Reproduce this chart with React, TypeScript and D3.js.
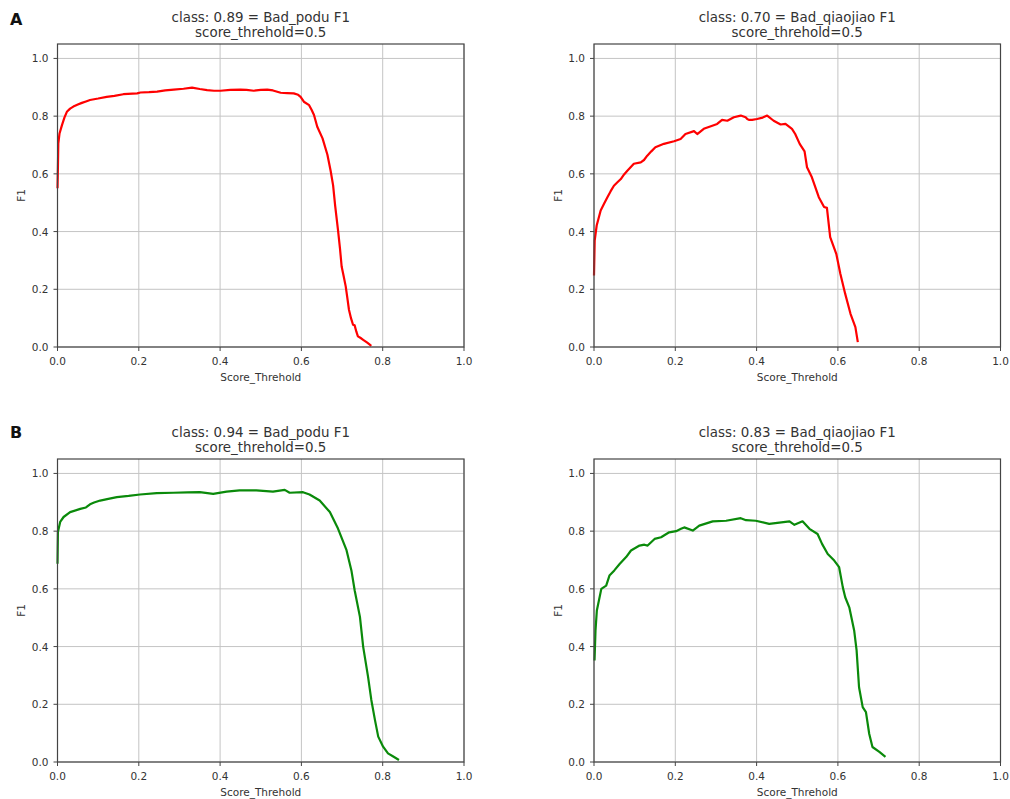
import * as d3 from "d3";

// values (x = score threshold, y = F1)
const aPodu: [number, number][] = [
  [0.0, 0.55], [0.001, 0.62], [0.002, 0.706], [0.005, 0.74], [0.011, 0.769], [0.017, 0.795],
  [0.023, 0.815], [0.031, 0.826], [0.039, 0.833], [0.05, 0.84], [0.06, 0.846], [0.07, 0.851],
  [0.08, 0.856], [0.1, 0.861], [0.121, 0.867], [0.14, 0.87], [0.162, 0.876], [0.196, 0.879],
  [0.204, 0.882], [0.225, 0.883], [0.245, 0.885], [0.265, 0.889], [0.286, 0.892], [0.31, 0.895],
  [0.331, 0.899], [0.35, 0.894], [0.368, 0.89], [0.385, 0.888], [0.401, 0.888], [0.425, 0.891],
  [0.45, 0.892], [0.465, 0.891], [0.483, 0.888], [0.5, 0.891], [0.516, 0.892], [0.53, 0.889],
  [0.549, 0.881], [0.565, 0.88], [0.581, 0.879], [0.592, 0.874], [0.598, 0.867], [0.606, 0.85],
  [0.619, 0.838], [0.625, 0.822], [0.631, 0.804], [0.639, 0.763], [0.652, 0.723], [0.664, 0.666],
  [0.672, 0.61], [0.678, 0.56], [0.683, 0.49], [0.69, 0.406], [0.695, 0.34], [0.699, 0.279],
  [0.704, 0.245], [0.709, 0.21], [0.713, 0.17], [0.717, 0.129], [0.722, 0.1], [0.727, 0.077],
  [0.731, 0.075], [0.735, 0.054], [0.739, 0.037], [0.745, 0.032], [0.752, 0.025], [0.762, 0.015],
  [0.772, 0.004],
];

const aQiaojiao: [number, number][] = [
  [0.0, 0.248], [0.0017, 0.369], [0.0066, 0.421], [0.0164, 0.473], [0.025, 0.497], [0.033, 0.519],
  [0.041, 0.54], [0.049, 0.559], [0.057, 0.57], [0.066, 0.582], [0.074, 0.598], [0.082, 0.611],
  [0.098, 0.635], [0.115, 0.64], [0.123, 0.648], [0.131, 0.663], [0.141, 0.678], [0.151, 0.692],
  [0.172, 0.704], [0.197, 0.713], [0.213, 0.721], [0.225, 0.738], [0.246, 0.748], [0.254, 0.738],
  [0.27, 0.756], [0.291, 0.767], [0.303, 0.773], [0.315, 0.787], [0.328, 0.784], [0.344, 0.796],
  [0.361, 0.802], [0.373, 0.796], [0.377, 0.79], [0.381, 0.787], [0.389, 0.787], [0.401, 0.79],
  [0.415, 0.795], [0.426, 0.802], [0.442, 0.784], [0.459, 0.771], [0.471, 0.773], [0.487, 0.756],
  [0.495, 0.738], [0.506, 0.704], [0.518, 0.678], [0.524, 0.623], [0.536, 0.588], [0.553, 0.519],
  [0.566, 0.485], [0.573, 0.482], [0.581, 0.381], [0.596, 0.323], [0.606, 0.254], [0.618, 0.184],
  [0.631, 0.115], [0.643, 0.069], [0.649, 0.017],
];

const bPodu: [number, number][] = [
  [0.0, 0.687], [0.001, 0.797], [0.0066, 0.832], [0.015, 0.849], [0.031, 0.866], [0.056, 0.877],
  [0.07, 0.882], [0.08, 0.893], [0.09, 0.899], [0.105, 0.906], [0.125, 0.912], [0.146, 0.918],
  [0.175, 0.922], [0.203, 0.927], [0.244, 0.932], [0.285, 0.933], [0.32, 0.934], [0.35, 0.935],
  [0.383, 0.929], [0.416, 0.937], [0.448, 0.941], [0.489, 0.941], [0.53, 0.937], [0.559, 0.943],
  [0.571, 0.933], [0.604, 0.935], [0.62, 0.927], [0.645, 0.906], [0.67, 0.866], [0.69, 0.809],
  [0.711, 0.734], [0.723, 0.664], [0.731, 0.595], [0.744, 0.503], [0.752, 0.399], [0.764, 0.295],
  [0.772, 0.215], [0.781, 0.145], [0.789, 0.088], [0.801, 0.053], [0.813, 0.03], [0.826, 0.019],
  [0.84, 0.007],
];

const bQiaojiao: [number, number][] = [
  [0.0013, 0.352], [0.0037, 0.456], [0.007, 0.525], [0.018, 0.6], [0.03, 0.611], [0.038, 0.646],
  [0.05, 0.664], [0.063, 0.686], [0.079, 0.71], [0.091, 0.733], [0.112, 0.75], [0.124, 0.753],
  [0.132, 0.75], [0.149, 0.773], [0.165, 0.779], [0.185, 0.796], [0.202, 0.8], [0.214, 0.808],
  [0.222, 0.813], [0.243, 0.802], [0.259, 0.819], [0.292, 0.834], [0.325, 0.836], [0.361, 0.845],
  [0.374, 0.838], [0.398, 0.836], [0.431, 0.825], [0.481, 0.834], [0.493, 0.822], [0.513, 0.834],
  [0.53, 0.808], [0.55, 0.79], [0.561, 0.756], [0.575, 0.721], [0.591, 0.698], [0.603, 0.675],
  [0.612, 0.606], [0.618, 0.571], [0.628, 0.536], [0.64, 0.456], [0.646, 0.387], [0.652, 0.259],
  [0.661, 0.19], [0.669, 0.173], [0.677, 0.098], [0.685, 0.052], [0.702, 0.035], [0.717, 0.018],
];

const titles = [
  "class: 0.89 = Bad_podu F1",
  "class: 0.70 = Bad_qiaojiao F1",
  "class: 0.94 = Bad_podu F1",
  "class: 0.83 = Bad_qiaojiao F1",
];
const subtitle = "score_threhold=0.5";
const xLabel = "Score_Threhold";
const yLabel = "F1";
const tickValues = [0, 0.2, 0.4, 0.6, 0.8, 1.0];
const panelLetters = ["A", "B"];

const W = 1010;
const H = 799;
const FONT = "DejaVu Sans, sans-serif";
const colX = [57.5, 594];
const rowY = [44, 459];
const pw = 406.5;
const ph = 303;

type PanelProps = { x0: number; y0: number; data: [number, number][]; color: string; title: string };

function Panel({ x0, y0, data, color, title }: PanelProps) {
  const x = d3.scaleLinear().domain([0, 1]).range([x0, x0 + pw]);
  const y = d3.scaleLinear().domain([0, 1.05]).range([y0 + ph, y0]);
  const line = d3.line<[number, number]>().x((d) => x(d[0])).y((d) => y(d[1]));
  const fmt = d3.format(".1f");
  const cx = x0 + pw / 2;
  return (
    <g>
      <text x={cx} y={y0 - 22} textAnchor="middle" fontSize={13.4} fill="#333">{title}</text>
      <text x={cx} y={y0 - 7} textAnchor="middle" fontSize={13.4} fill="#333">{subtitle}</text>
      {/* grid */}
      {tickValues.map((t) => (
        <line key={"gx" + t} x1={x(t)} x2={x(t)} y1={y0} y2={y0 + ph} stroke="#c4c4c4" strokeWidth={1} />
      ))}
      {tickValues.map((t) => (
        <line key={"gy" + t} x1={x0} x2={x0 + pw} y1={y(t)} y2={y(t)} stroke="#c4c4c4" strokeWidth={1} />
      ))}
      <path d={line(data) || ""} fill="none" stroke={color} strokeWidth={2.2} strokeLinejoin="round" />
      <rect x={x0} y={y0} width={pw} height={ph} fill="none" stroke="#444" strokeWidth={1.2} />
      {/* x ticks */}
      {tickValues.map((t) => (
        <g key={"tx" + t}>
          <line x1={x(t)} x2={x(t)} y1={y0 + ph} y2={y0 + ph + 4} stroke="#444" />
          <text x={x(t)} y={y0 + ph + 17.5} textAnchor="middle" fontSize={10.5} fill="#333">{fmt(t)}</text>
        </g>
      ))}
      {/* y ticks */}
      {tickValues.map((t) => (
        <g key={"ty" + t}>
          <line x1={x0 - 4} x2={x0} y1={y(t)} y2={y(t)} stroke="#444" />
          <text x={x0 - 9} y={y(t) + 4} textAnchor="end" fontSize={10.5} fill="#333">{fmt(t)}</text>
        </g>
      ))}
      <text x={cx} y={y0 + ph + 33.5} textAnchor="middle" fontSize={10.5} fill="#333">{xLabel}</text>
      <text transform={`translate(${x0 - 32.5},${y0 + ph / 2}) rotate(-90)`} textAnchor="middle" fontSize={10.5} fill="#333">{yLabel}</text>
    </g>
  );
}

export default function App() {
  const series = [aPodu, aQiaojiao, bPodu, bQiaojiao];
  const colors = ["#ff0000", "#ff0000", "#0a8a0a", "#0a8a0a"];
  return (
    <svg width={W} height={H} style={{ position: "absolute", left: 0, top: 0, background: "#fff" }} fontFamily={FONT}>
      <rect width={W} height={H} fill="#fff" />
      {panelLetters.map((l, r) => (
        <text key={l} x={10} y={r === 0 ? 25 : 438} fontSize={16} fontWeight="bold" fill="#111">{l}</text>
      ))}
      {series.map((s, i) => (
        <Panel key={i} x0={colX[i % 2]} y0={rowY[Math.floor(i / 2)]} data={s} color={colors[i]} title={titles[i]} />
      ))}
    </svg>
  );
}
